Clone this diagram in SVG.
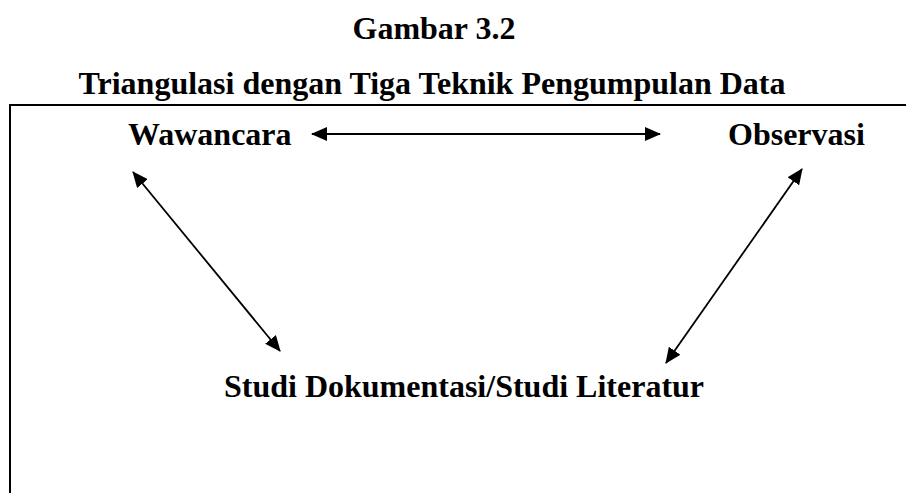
<svg xmlns="http://www.w3.org/2000/svg" width="906" height="493" viewBox="0 0 906 493">
  <style>
    .t { font-family: "Liberation Serif", "Times New Roman", serif; font-weight: bold; font-size: 32px; fill: #000; }
    .c { stroke: #000; stroke-width: 1.8; fill: none; marker-start: url(#ah); marker-end: url(#ah); }
  </style>
  <defs>
    <marker id="ah" viewBox="0 0 16 14" refX="15" refY="7" markerWidth="16" markerHeight="14" markerUnits="userSpaceOnUse" orient="auto-start-reverse">
      <path d="M0,0 L16,7 L0,14 Z" fill="#000"/>
    </marker>
  </defs>
  <rect width="906" height="493" fill="#fff"/>
  <g id="title">
    <text class="t" x="434" y="39" text-anchor="middle">Gambar 3.2</text>
    <text class="t" x="432" y="94" text-anchor="middle">Triangulasi dengan Tiga Teknik Pengumpulan Data</text>
  </g>
  <g id="frame">
    <path d="M10,493 V105 H906" stroke="#000" stroke-width="2" fill="none"/>
  </g>
  <g id="wawancara">
    <text class="t" x="128" y="145">Wawancara</text>
  </g>
  <g id="observasi">
    <text class="t" x="728" y="145">Observasi</text>
  </g>
  <g id="studi">
    <text class="t" x="464" y="397" text-anchor="middle">Studi Dokumentasi/Studi Literatur</text>
  </g>
  <g id="connectors">
    <line class="c" x1="312" y1="134" x2="660" y2="134"/>
    <line class="c" x1="133" y1="172" x2="280" y2="351"/>
    <line class="c" x1="802" y1="169" x2="666" y2="363"/>
  </g>
</svg>
